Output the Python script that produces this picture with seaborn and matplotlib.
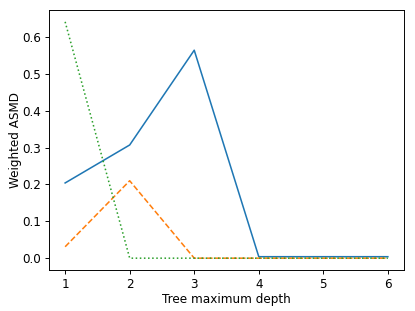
import numpy as np
import pandas as pd
import matplotlib
matplotlib.use("Agg")
import matplotlib.pyplot as plt
import seaborn as sns

depth = [1, 2, 3, 4, 5, 6]
asmd_a = [0.204, 0.307, 0.564, 0.004, 0.004, 0.004]
asmd_b = [0.031, 0.210, 0.0, 0.0, 0.0, 0.0]
asmd_c = [0.641, 0.0, 0.0, 0.0, 0.0, 0.0]

df = pd.DataFrame({
    "depth": depth * 3,
    "asmd": asmd_a + asmd_b + asmd_c,
    "series": ["a"] * 6 + ["b"] * 6 + ["c"] * 6,
})

DPI = 86
fig, ax = plt.subplots(figsize=(415 / DPI, 311 / DPI), dpi=DPI)
fig.subplots_adjust(left=49 / 415, right=404 / 415, top=1 - 10 / 311, bottom=1 - 270 / 311)
sns.lineplot(data=df, x="depth", y="asmd", hue="series", style="series",
             palette=["#1f77b4", "#ff7f0e", "#2ca02c"],
             dashes=["", (3.7, 1.6), (1, 1.65)], linewidth=1.3, legend=False, ax=ax)
ax.set_xlabel("Tree maximum depth", labelpad=1)
ax.set_ylabel("Weighted ASMD", labelpad=0)
fig.savefig("out.png", dpi=DPI)
